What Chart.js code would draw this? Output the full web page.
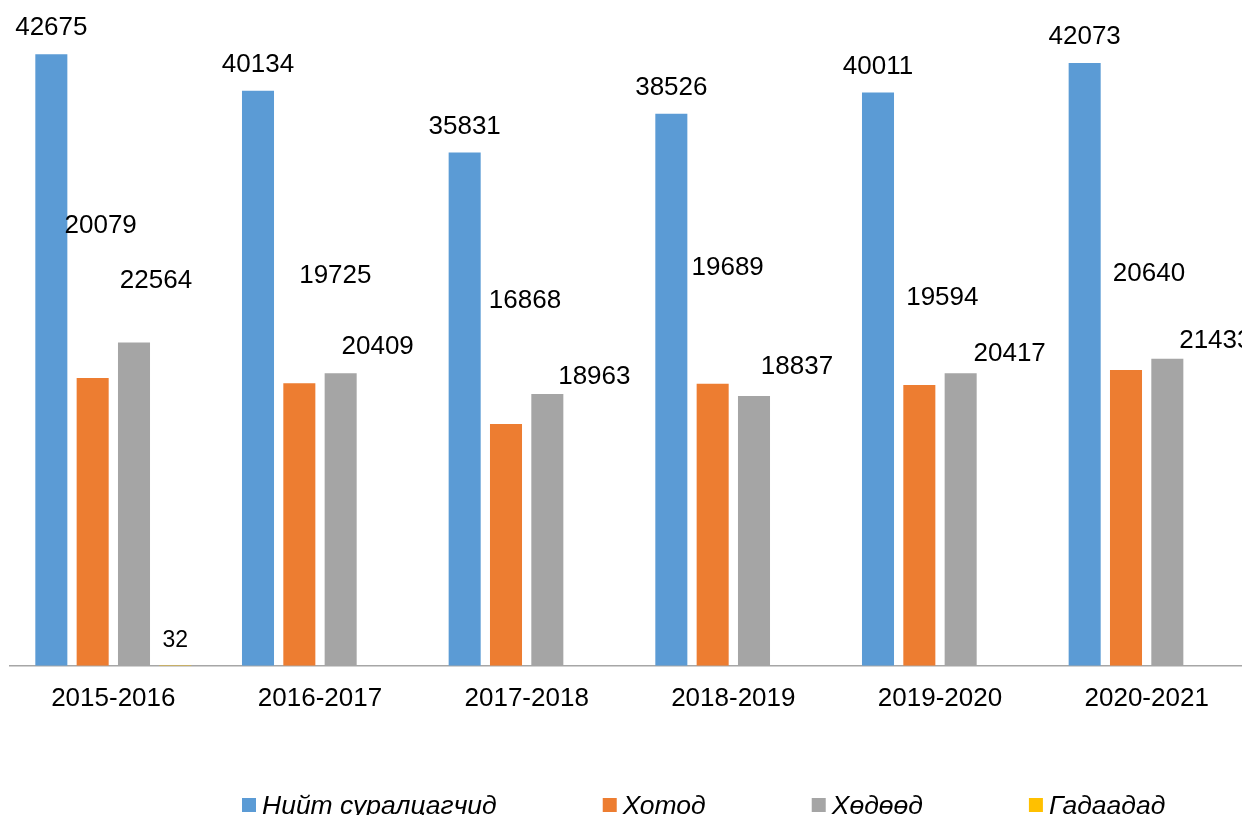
<!DOCTYPE html>
<html>
<head>
<meta charset="utf-8">
<script src="https://cdn.jsdelivr.net/npm/chart.js@4.4.0/dist/chart.umd.min.js"></script>
<style>
  html, body { margin: 0; padding: 0; background: #fff; overflow: hidden; }
  canvas { display: block; }
</style>
</head>
<body>
<!-- a touch wider than the window: the plot in the reference runs past the right edge -->
<canvas id="chart" width="1250" height="815"></canvas>
<script>
// data
const years = ["2015-2016", "2016-2017", "2017-2018", "2018-2019", "2019-2020", "2020-2021"];
const totalStudents = [42675, 40134, 35831, 38526, 40011, 42073];
const urban = [20079, 19725, 16868, 19689, 19594, 20640];
const rural = [22564, 20409, 18963, 18837, 20417, 21433];
const abroad = [32, null, null, null, null, null];
const seriesNames = ["Нийт суралцагчид", "Хотод", "Хөдөөд", "Гадаадад"];

const colors = ["#5B9BD5", "#ED7D31", "#A5A5A5", "#FFC000"];
const FONT = '"Liberation Sans", Arial, sans-serif';

// where each value label sits relative to its bar (center x, top y), in px
const labelShift = [
  [[0, -26], [0, -26], [0, -26], [0, -26], [0, -26], [0, -26]],
  [[8, -152], [36, -107], [19, -123], [15, -116], [23, -87], [23, -96]],
  [[22, -62], [37, -27], [47, -17], [43, -29], [49, -19], [48, -18]],
  [[0, -25]]
];
const labelSize = [26, 26, 26, 23];

const valueLabels = {
  id: "valueLabels",
  afterDatasetsDraw(chart) {
    const c = chart.ctx;
    c.save();
    c.fillStyle = "#000";
    c.textAlign = "center";
    c.textBaseline = "middle";
    chart.data.datasets.forEach((ds, i) => {
      c.font = labelSize[i] + "px " + FONT;
      chart.getDatasetMeta(i).data.forEach((bar, j) => {
        const v = ds.data[j];
        if (v == null) return;
        const s = (labelShift[i] && labelShift[i][j]) || [0, -25];
        c.fillText(String(v), bar.x + s[0], bar.y + s[1]);
      });
    });
    c.restore();
  }
};

const bottomLegend = {
  id: "bottomLegend",
  afterDraw(chart) {
    const c = chart.ctx;
    c.save();
    c.font = "italic 26.5px " + FONT;
    c.textBaseline = "alphabetic";
    c.textAlign = "left";
    let x = 242;
    chart.data.datasets.forEach((ds, i) => {
      c.fillStyle = ds.backgroundColor;
      c.fillRect(x, 798, 14, 14);
      c.fillStyle = "#000";
      c.fillText(ds.label, x + 20, 814);
      x += 20 + c.measureText(ds.label).width + 106;
    });
    c.restore();
  }
};

const seriesData = [totalStudents, urban, rural, abroad];

new Chart(document.getElementById("chart"), {
  type: "bar",
  data: {
    labels: years,
    datasets: seriesData.map((d, i) => ({
      label: seriesNames[i],
      data: d,
      backgroundColor: colors[i],
      borderWidth: 0,
      barPercentage: 0.775,
      categoryPercentage: 0.8
    }))
  },
  options: {
    responsive: false,
    animation: false,
    devicePixelRatio: 1,
    layout: { padding: { top: 21, left: 10, right: 0, bottom: 84 } },
    plugins: {
      legend: { display: false },
      tooltip: { enabled: false }
    },
    scales: {
      x: {
        grid: { display: false, drawTicks: false },
        border: { display: true, color: "#a6a6a6", width: 1.5 },
        ticks: { color: "#000", padding: 17, font: { family: FONT, size: 26 } }
      },
      y: {
        display: false,
        min: 0,
        max: 45000
      }
    }
  },
  plugins: [valueLabels, bottomLegend]
});
</script>
</body>
</html>
